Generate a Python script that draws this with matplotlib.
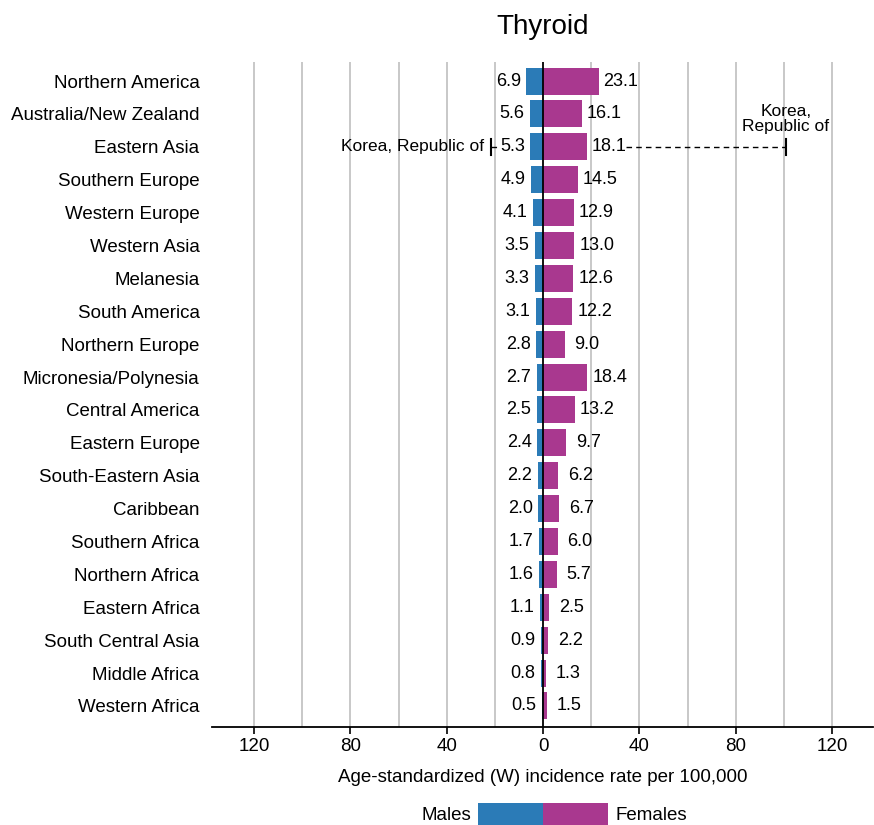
import matplotlib
matplotlib.use("Agg")
import matplotlib.pyplot as plt

# data (age-standardized incidence per 100,000)
regions = ['Northern America', 'Australia/New Zealand', 'Eastern Asia', 'Southern Europe',
           'Western Europe', 'Western Asia', 'Melanesia', 'South America', 'Northern Europe',
           'Micronesia/Polynesia', 'Central America', 'Eastern Europe', 'South-Eastern Asia',
           'Caribbean', 'Southern Africa', 'Northern Africa', 'Eastern Africa',
           'South Central Asia', 'Middle Africa', 'Western Africa']
males = [6.9, 5.6, 5.3, 4.9, 4.1, 3.5, 3.3, 3.1, 2.8, 2.7, 2.5, 2.4, 2.2, 2.0, 1.7, 1.6, 1.1, 0.9, 0.8, 0.5]
females = [23.1, 16.1, 18.1, 14.5, 12.9, 13.0, 12.6, 12.2, 9.0, 18.4, 13.2, 9.7, 6.2, 6.7, 6.0, 5.7, 2.5, 2.2, 1.3, 1.5]

# highest country in Eastern Asia
korea_region = 'Eastern Asia'
korea_name = 'Korea, Republic of'
korea_m = 21.5
korea_f = 100.8

xticks = [-120, -80, -40, 0, 40, 80, 120]
xtick_labels = ['120', '80', '40', '0', '40', '80', '120']
grid_pos = [-120, -100, -80, -60, -40, -20, 20, 40, 60, 80, 100, 120]

blue = '#2b7bb7'
magenta = '#a9388f'

plt.rcParams['font.family'] = ['Liberation Sans', 'DejaVu Sans']

fig = plt.figure(figsize=(8.74, 8.25), dpi=100)
ax = fig.add_axes([212 / 874, 1 - 727 / 825, (873 - 212) / 874, (727 - 62) / 825])

y = list(range(len(regions)))
for g in grid_pos:
    ax.axvline(g, color='#c4c4c4', lw=1.3, zorder=0)

ax.barh(y, [-m for m in males], height=0.82, color=blue, zorder=2)
ax.barh(y, females, height=0.82, color=magenta, zorder=2)
ax.axvline(0, color='black', lw=1.3, zorder=3)

for i in y:
    ax.annotate(f'{males[i]:.1f}', xy=(-males[i], i), xytext=(-13, 0), textcoords='offset points',
                ha='center', va='center', fontsize=13, zorder=4)
    ax.annotate(f'{females[i]:.1f}', xy=(females[i], i), xytext=(16, 0), textcoords='offset points',
                ha='center', va='center', fontsize=13, zorder=4)

# Korea annotation
k = regions.index(korea_region)
ax.plot([-korea_m, -males[k] - 14], [k, k], ls=(0, (4, 3)), color='black', lw=1, zorder=1)
ax.plot([females[k] + 16.5, korea_f], [k, k], ls=(0, (4, 3)), color='black', lw=1, zorder=1)
for xv in (-korea_m, korea_f):
    ax.plot([xv, xv], [k - 0.25, k + 0.25], color='black', lw=1.5, zorder=4)
ax.annotate(korea_name, xy=(-korea_m, k), xytext=(-5, 0), textcoords='offset points',
            ha='right', va='center', fontsize=12.5)
ax.annotate('Korea,\n' + korea_name.split(', ')[1], xy=(korea_f, k), xytext=(0, 9),
            textcoords='offset points', ha='center', va='bottom', fontsize=12.5, linespacing=1.05)

ax.set_xlim(-137.5, 137)
ax.set_ylim(len(regions) - 0.36, -0.58)
ax.set_yticks(y)
ax.set_yticklabels(regions, fontsize=13.5)
ax.tick_params(axis='y', length=0, pad=9)
ax.set_xticks(xticks)
ax.set_xticklabels(xtick_labels, fontsize=13.5)
ax.tick_params(axis='x', length=5, width=1.2, pad=3)
for s in ['top', 'right', 'left']:
    ax.spines[s].set_visible(False)
ax.spines['bottom'].set_linewidth(1.3)
ax.set_xlabel('Age-standardized (W) incidence rate per 100,000', fontsize=13.5, labelpad=10)
ax.set_title('Thyroid', fontsize=20, pad=20.5)

# legend row
lax = fig.add_axes([212 / 874, -4 / 825, (873 - 212) / 874, 26 / 825])
lax.set_xlim(ax.get_xlim())
lax.set_ylim(-0.5, 0.5)
lax.barh([0], [-27], height=1, color=blue)
lax.barh([0], [27], height=1, color=magenta)
lax.text(-30, 0, 'Males', ha='right', va='center', fontsize=13.5)
lax.text(30, 0, 'Females', ha='left', va='center', fontsize=13.5)
lax.axis('off')

fig.savefig('out.png', dpi=100)
